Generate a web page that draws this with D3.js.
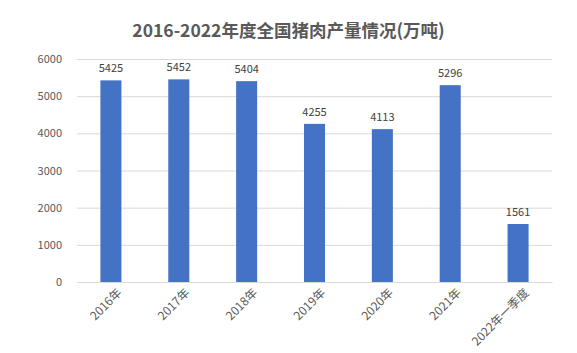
<html>

<head>
  <meta charset="utf-8">
  <title>2016-2022年度全国猪肉产量情况</title>
  <script type="text/javascript" src="https://cdn.jsdelivr.net/npm/d3@7"></script>
  <style>
    body { margin: 0; background: #fff; }
    text { font-family: "Noto Sans CJK SC", "Noto Sans", sans-serif; }
  </style>
</head>

<body>
  <script type="text/javascript">
    // Størrelse
    const w = 577;
    const h = 353;
    const margin = { top: 59, right: 25, bottom: 71, left: 77 };

    // Data
    const years = ["2016年", "2017年", "2018年", "2019年", "2020年", "2021年", "2022年一季度"];
    const output = [5425, 5452, 5404, 4255, 4113, 5296, 1561];
    const yTicks = [0, 1000, 2000, 3000, 4000, 5000, 6000];

    const svg = d3.select("body")
      .append("svg")
      .attr("width", w)
      .attr("height", h);

    // Scales
    const xScale = d3.scaleBand()
      .domain(years)
      .range([margin.left, w - margin.right])
      .paddingInner(0.69)
      .paddingOuter(0.345);

    const yScale = d3.scaleLinear()
      .domain([0, 6000])
      .range([h - margin.bottom, margin.top]);

    // Titel
    svg.append("text")
      .attr("x", w / 2)
      .attr("y", 37)
      .attr("text-anchor", "middle")
      .attr("font-size", 17.5)
      .attr("font-weight", "bold")
      .attr("fill", "#595959")
      .text("2016-2022年度全国猪肉产量情况(万吨)");

    // Gitterlinjer + y-akse
    const yAxis = d3.axisLeft(yScale)
      .tickValues(yTicks)
      .tickSize(-(w - margin.left - margin.right))
      .tickPadding(15)
      .tickFormat(d3.format("d"));
    const gy = svg.append("g")
      .attr("transform", "translate(" + margin.left + ",0)")
      .call(yAxis);
    gy.select(".domain").remove();
    gy.selectAll("line").attr("stroke", "#d9d9d9");
    gy.selectAll("text")
      .attr("fill", "#595959")
      .attr("font-size", 11);

    // Bars
    svg.selectAll("rect.bar")
      .data(output)
      .enter()
      .append("rect")
      .attr("class", "bar")
      .attr("x", function (d, i) { return xScale(years[i]); })
      .attr("y", function (d) { return yScale(d); })
      .attr("width", xScale.bandwidth())
      .attr("height", function (d) { return yScale(0) - yScale(d); })
      .attr("fill", "#4472c4");

    // Værdi-labels
    svg.selectAll("text.val")
      .data(output)
      .enter()
      .append("text")
      .attr("class", "val")
      .attr("x", function (d, i) { return xScale(years[i]) + xScale.bandwidth() / 2; })
      .attr("y", function (d) { return yScale(d) - 8; })
      .attr("text-anchor", "middle")
      .attr("font-size", 11)
      .attr("fill", "#404040")
      .text(function (d) { return d; });

    // x-akse
    const xAxis = d3.axisBottom(xScale).tickSize(0).tickPadding(8);
    const gx = svg.append("g")
      .attr("transform", "translate(0," + (h - margin.bottom) + ")")
      .call(xAxis);
    gx.select(".domain").attr("stroke", "#d9d9d9");
    gx.selectAll("text")
      .attr("fill", "#595959")
      .attr("font-size", 12)
      .attr("text-anchor", "end")
      .attr("dy", "0.35em")
      .attr("transform", "translate(3,3) rotate(-45)");
  </script>
</body>

</html>
